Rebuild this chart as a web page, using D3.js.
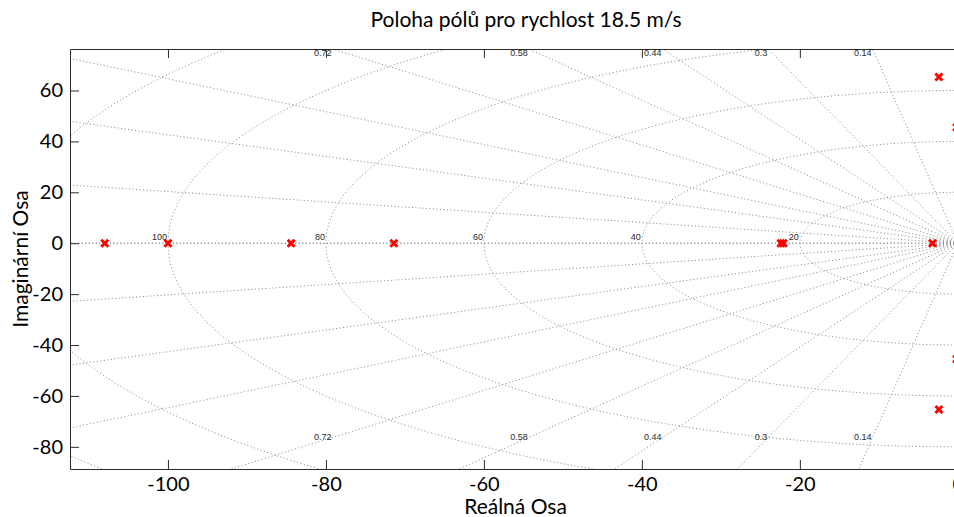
<!DOCTYPE html>
<html>
<head>
<meta charset="utf-8">
<script src="https://cdn.jsdelivr.net/npm/d3@7"></script>
<style>
  html, body { margin: 0; padding: 0; background: #fff; overflow: hidden; }
  svg { display: block; }
</style>
</head>
<body>
<svg id="chart" width="954" height="517"></svg>
<script>
// Pole locations (real part, imaginary part)
const poleRe = [-108.0, -100.0, -84.4, -71.4, -22.1, -22.4, -3.2, -2.4, -2.4, -0.15, -0.15];
const poleIm = [0, 0, 0, 0, 0, 0, 0, 65.3, -65.3, 45.5, -45.5];

// Axis ticks
const xTicks = [-100, -80, -60, -40, -20, 0];
const yTicks = [60, 40, 20, 0, -20, -40, -60, -80];

// s-plane grid: damping ratios and natural frequencies
const zetaLines = [0, 0.14, 0.3, 0.44, 0.58, 0.72, 0.84, 0.92, 0.98, 1];
const zetaLabels = [0.14, 0.3, 0.44, 0.58, 0.72];
const wnCircles = [20, 40, 60, 80, 100, 120, 140];

const xDomain = [-112.4, 0.4];
const yDomain = [-88.7, 76.3];

const title = "Poloha pólů pro rychlost 18.5 m/s";
const xLabel = "Reálná Osa";
const yLabel = "Imaginární Osa";

const svg = d3.select("#chart");
const plot = { left: 70, top: 49, right: 961, bottom: 469 };

const x = d3.scaleLinear().domain(xDomain).range([plot.left, plot.right]);
const y = d3.scaleLinear().domain(yDomain).range([plot.bottom, plot.top]);

const font = "Lato, 'Open Sans', sans-serif";
const axisColor = "#2b2b2b";
const gridColor = "#858585";

svg.append("defs").append("clipPath").attr("id", "plotClip")
  .append("rect")
  .attr("x", plot.left).attr("y", plot.top)
  .attr("width", plot.right - plot.left).attr("height", plot.bottom - plot.top);

const grid = svg.append("g").attr("clip-path", "url(#plotClip)");

// Constant-damping rays from the origin
const R = 400;
zetaLines.forEach(z => {
  const s = Math.sqrt(1 - z * z);
  [1, -1].forEach(sign => {
    grid.append("line")
      .attr("x1", x(0)).attr("y1", y(0))
      .attr("x2", x(-R * z)).attr("y2", y(sign * R * s))
      .attr("stroke", gridColor).attr("stroke-width", 1)
      .attr("stroke-dasharray", "1,2.5");
  });
});

// Constant natural-frequency half circles in the left half plane
const angles = d3.range(0, 181, 1).map(d => d * Math.PI / 180);
const arc = d3.line().x(d => x(d[0])).y(d => y(d[1]));
wnCircles.forEach(w => {
  const pts = angles.map(a => [-w * Math.sin(a), w * Math.cos(a)]);
  grid.append("path")
    .attr("d", arc(pts))
    .attr("fill", "none")
    .attr("stroke", gridColor).attr("stroke-width", 1)
    .attr("stroke-dasharray", "1,2.5");
});

// Frequency labels on the real axis
const labelFont = "'Liberation Sans', Arial, sans-serif";
wnCircles.filter(w => -w >= xDomain[0]).forEach(w => {
  svg.append("text")
    .attr("x", x(-w) - 1).attr("y", y(0) - 3)
    .attr("text-anchor", "end")
    .attr("font-family", labelFont).attr("font-size", 9)
    .attr("fill", "#2a2a2a")
    .text(w);
});

// Damping labels near the top and bottom edges
const yLab = yDomain[1];
zetaLabels.forEach(z => {
  const s = Math.sqrt(1 - z * z);
  const xr = -yLab * z / s;
  svg.append("text")
    .attr("x", x(xr) - 1).attr("y", y(yLab) + 1)
    .attr("text-anchor", "end").attr("dominant-baseline", "hanging")
    .attr("font-family", labelFont).attr("font-size", 9)
    .attr("fill", "#2a2a2a")
    .text(z);
  svg.append("text")
    .attr("x", x(xr) - 1).attr("y", y(-yLab))
    .attr("text-anchor", "end").attr("dominant-baseline", "central")
    .attr("font-family", labelFont).attr("font-size", 9)
    .attr("fill", "#2a2a2a")
    .text(z);
});

// Axes with inward ticks
const fmt = d => d3.format("d")(d).replace("−", "-");
const gx = svg.append("g").attr("transform", `translate(0,${plot.bottom})`)
  .call(d3.axisBottom(x).tickValues(xTicks).tickFormat(fmt).tickSizeInner(-9).tickSizeOuter(0).tickPadding(8));
const gxTop = svg.append("g").attr("transform", `translate(0,${plot.top})`)
  .call(d3.axisTop(x).tickValues(xTicks).tickFormat("").tickSizeInner(-9).tickSizeOuter(0));
const gy = svg.append("g").attr("transform", `translate(${plot.left},0)`)
  .call(d3.axisLeft(y).tickValues(yTicks).tickFormat(fmt).tickSizeInner(-9).tickSizeOuter(0).tickPadding(7));

[gx, gxTop, gy].forEach(g => {
  g.select(".domain").attr("stroke", axisColor);
  g.selectAll(".tick line").attr("stroke", axisColor);
  g.selectAll(".tick text").attr("fill", "#000")
    .attr("font-family", font).attr("font-size", 20);
});

// Pole markers
const poles = poleRe.map((r, i) => [r, poleIm[i]]);
svg.append("g").attr("clip-path", "url(#plotClip)")
  .selectAll("path.pole").data(poles).join("path")
  .attr("class", "pole")
  .attr("transform", d => `translate(${x(d[0])},${y(d[1])})`)
  .attr("d", "M-3.5,-3.5L3.5,3.5M-3.5,3.5L3.5,-3.5")
  .attr("stroke", "#ff0000").attr("stroke-width", 3)
  .attr("fill", "none");

// Title and axis labels
svg.append("text")
  .attr("x", 526).attr("y", 27)
  .attr("text-anchor", "middle")
  .attr("font-family", font).attr("font-size", 21)
  .text(title);

svg.append("text")
  .attr("x", (plot.left + plot.right) / 2).attr("y", 514)
  .attr("text-anchor", "middle")
  .attr("font-family", font).attr("font-size", 21)
  .text(xLabel);

svg.append("text")
  .attr("transform", `translate(28,${(plot.top + plot.bottom) / 2}) rotate(-90)`)
  .attr("text-anchor", "middle")
  .attr("font-family", font).attr("font-size", 21)
  .text(yLabel);
</script>
</body>
</html>
